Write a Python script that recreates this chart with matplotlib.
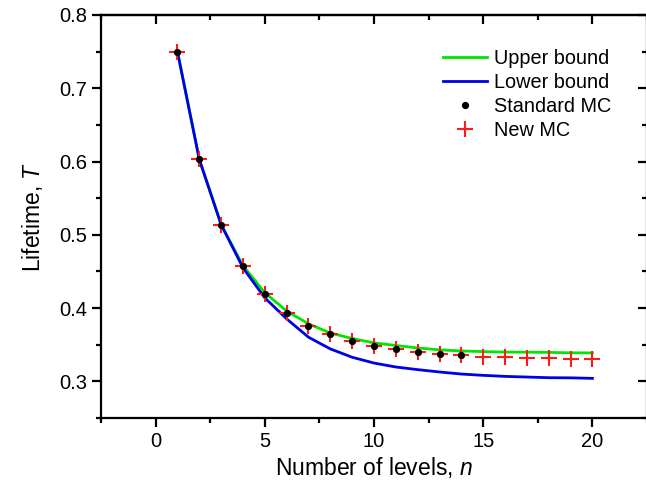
import matplotlib
matplotlib.use("Agg")
import matplotlib.pyplot as plt
from matplotlib.ticker import MultipleLocator

plt.rcParams['font.family'] = ['Liberation Sans', 'DejaVu Sans']
plt.rcParams['mathtext.fontset'] = 'custom'
plt.rcParams['mathtext.rm'] = 'Liberation Sans'
plt.rcParams['mathtext.it'] = 'Liberation Sans:italic'

# ---- data ----
levels = list(range(1, 21))
upper_bound = [0.750, 0.603, 0.514, 0.458, 0.421, 0.396, 0.3785, 0.366, 0.3585, 0.3525,
               0.349, 0.3456, 0.343, 0.3415, 0.3406, 0.3400, 0.3398, 0.3395, 0.3390, 0.3388]
lower_bound = [0.750, 0.603, 0.514, 0.455, 0.414, 0.3853, 0.3603, 0.3443, 0.3329, 0.3250,
               0.3196, 0.3160, 0.3128, 0.3100, 0.3082, 0.3068, 0.3059, 0.3050, 0.3048, 0.3041]
std_levels = list(range(1, 15))
standard_mc = [0.750, 0.603, 0.514, 0.457, 0.419, 0.393, 0.376, 0.364, 0.355, 0.348,
               0.344, 0.340, 0.338, 0.3366]
new_mc = [0.750, 0.603, 0.514, 0.457, 0.419, 0.393, 0.376, 0.364, 0.355, 0.348,
          0.344, 0.340, 0.338, 0.3366, 0.333, 0.333, 0.332, 0.332, 0.331, 0.331]

fig = plt.figure(figsize=(6.46, 4.91), dpi=100)
ax = fig.add_axes([101 / 646, 1 - 418 / 491, (647 - 101) / 646, (418 - 15) / 491])

ax.plot(levels, upper_bound, color='#00e600', lw=2.0, label='Upper bound', zorder=2)
ax.plot(levels, lower_bound, color='#0000e6', lw=2.0, label='Lower bound', zorder=3)
ax.plot(std_levels, standard_mc, 'o', color='black', ms=4.2, label='Standard MC', zorder=5)
ax.plot(levels, new_mc, '+', color='#ff1a1a', ms=12, mew=1.5, label='New MC', zorder=4)

ax.set_xlim(-2.5, 22.5)
ax.set_ylim(0.25, 0.8)
ax.xaxis.set_major_locator(MultipleLocator(5))
ax.xaxis.set_minor_locator(MultipleLocator(2.5))
ax.yaxis.set_minor_locator(MultipleLocator(0.05))
ax.set_yticks([0.3, 0.4, 0.5, 0.6, 0.7, 0.8])
ax.set_yticklabels(['0.3', '0.4', '0.5', '0.6', '0.7', '0.8'])

for s in ax.spines.values():
    s.set_linewidth(1.6)

ax.tick_params(which='both', direction='out', labelsize=14.5, width=1.6, pad=3.5)
ax.tick_params(which='major', length=6.5)
ax.tick_params(which='minor', length=3.3)

# top and right mirrored ticks pointing inward
top = ax.secondary_xaxis('top')
top.xaxis.set_major_locator(MultipleLocator(5))
top.xaxis.set_minor_locator(MultipleLocator(2.5))
top.tick_params(which='both', direction='in', labeltop=False, width=1.6)
top.tick_params(which='major', length=6.5)
top.tick_params(which='minor', length=3.3)
top.spines['top'].set_linewidth(1.6)

right = ax.secondary_yaxis('right')
right.yaxis.set_major_locator(MultipleLocator(0.1))
right.yaxis.set_minor_locator(MultipleLocator(0.05))
right.tick_params(which='both', direction='in', labelright=False, width=1.6)
right.tick_params(which='major', length=6.5)
right.tick_params(which='minor', length=3.3)
right.spines['right'].set_linewidth(1.6)

ax.set_xlabel('Number of levels, $n$', fontsize=16.5, labelpad=3)
ax.set_ylabel('Lifetime, $T$', fontsize=16.5, labelpad=10)

leg = ax.legend(loc='upper left', bbox_to_anchor=(0.626, 0.915), frameon=False,
                fontsize=14.3, handlelength=2.25, handletextpad=0.35, labelspacing=0.25,
                borderpad=0, borderaxespad=0, numpoints=1)

fig.savefig('out.png', dpi=100)
